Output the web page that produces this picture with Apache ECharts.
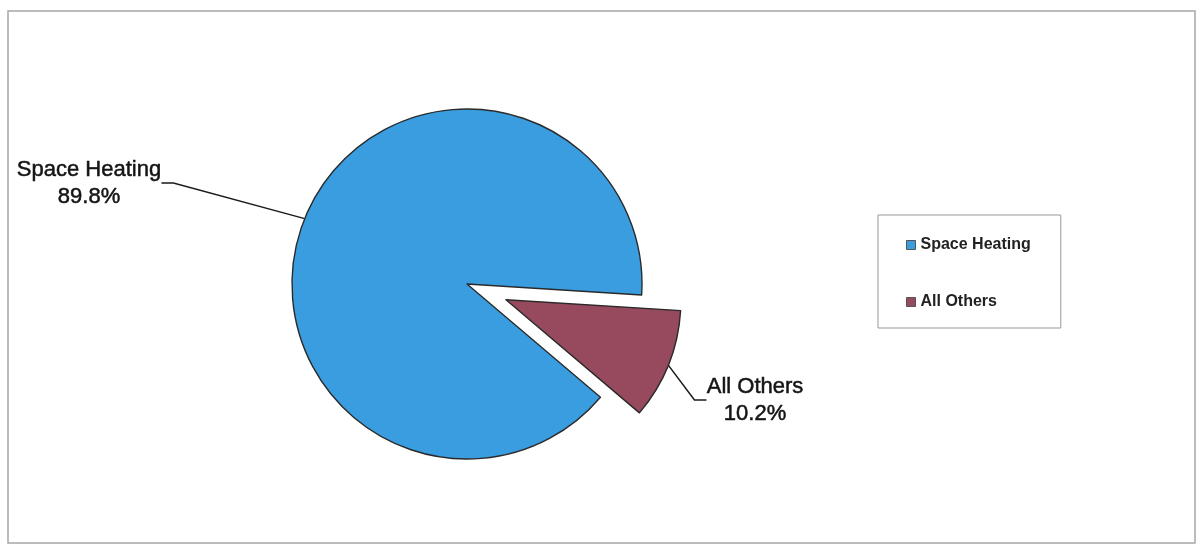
<!DOCTYPE html>
<html>
<head>
<meta charset="utf-8">
<script src="https://cdn.jsdelivr.net/npm/echarts@6/dist/echarts.min.js"></script>
<style>
  html, body { margin: 0; padding: 0; background: #fff; }
  #chart { width: 1197px; height: 548px; }
</style>
</head>
<body>
<div id="chart"></div>
<script>
const categories = ["Space Heating", "All Others"];
const shares = [89.8, 10.2];
const colors = ["#3a9de0", "#974a5e"];
// callout label spots: centre x, baseline of first line
const labelSpots = [[89, 183], [755, 400]];

const chart = echarts.init(document.getElementById("chart"));

const center = [467, 284];
const startAngle = -40.3;
const explode = 42;

// the small slice is pulled out along its middle angle
const total = shares[0] + shares[1];
const midAngle = ((startAngle + (shares[1] / total) * 180) * Math.PI) / 180;
const pulledCenter = [
  center[0] + explode * Math.cos(midAngle),
  center[1] - explode * Math.sin(midAngle),
];

const textFont = "Liberation Sans, Arial, sans-serif";

const labelStyle = {
  position: "outside",
  formatter: "{b}\n{c}%",
  fontFamily: textFont,
  fontSize: 22,
  lineHeight: 27,
  color: "#141414",
  textBorderColor: "#141414",
  textBorderWidth: 0.5,
  align: "center",
  padding: [12, 0, 0, 0],
  backgroundColor: "rgba(255,255,255,0)",
};

const hidden = {
  itemStyle: { color: "rgba(0,0,0,0)", borderWidth: 0 },
  label: { show: false },
  labelLine: { show: false },
};

function slice(i) {
  return { name: categories[i], value: shares[i], itemStyle: { color: colors[i] } };
}

function gap(i) {
  return Object.assign({ name: "gap" + i, value: shares[i] }, hidden);
}

function pieSeries(c, data) {
  return {
    type: "pie",
    center: c,
    radius: 175,
    startAngle: startAngle,
    clockwise: true,
    emphasis: { disabled: true },
    itemStyle: { borderColor: "#2a2a2a", borderWidth: 1.4 },
    label: labelStyle,
    labelLine: {
      length: 20,
      length2: 12,
      lineStyle: { color: "#1a1a1a", width: 1.5 },
    },
    labelLayout: function (p) {
      const s = labelSpots[p.dataIndex];
      return { x: s[0], y: s[1], align: "center", verticalAlign: "middle" };
    },
    data: data,
  };
}

const option = {
  animation: false,
  graphic: [
    {
      type: "rect",
      silent: true,
      shape: { x: 8, y: 11, width: 1187, height: 532 },
      style: { fill: "none", stroke: "#a6a6a6", lineWidth: 1.5 },
    },
  ],
  legend: {
    orient: "vertical",
    left: 878,
    top: 215,
    padding: [22, 30, 18, 28],
    itemGap: 41,
    itemWidth: 9,
    itemHeight: 9,
    icon: "rect",
    borderColor: "#999",
    borderWidth: 1,
    selectedMode: false,
    itemStyle: { borderColor: "#555", borderWidth: 1 },
    textStyle: {
      fontFamily: textFont,
      fontSize: 16,
      fontWeight: "bold",
      color: "#222",
    },
    data: categories,
  },
  series: [
    pieSeries(center, [slice(0), gap(1)]),
    pieSeries(pulledCenter, [gap(0), slice(1)]),
  ],
};

chart.setOption(option);
</script>
</body>
</html>
